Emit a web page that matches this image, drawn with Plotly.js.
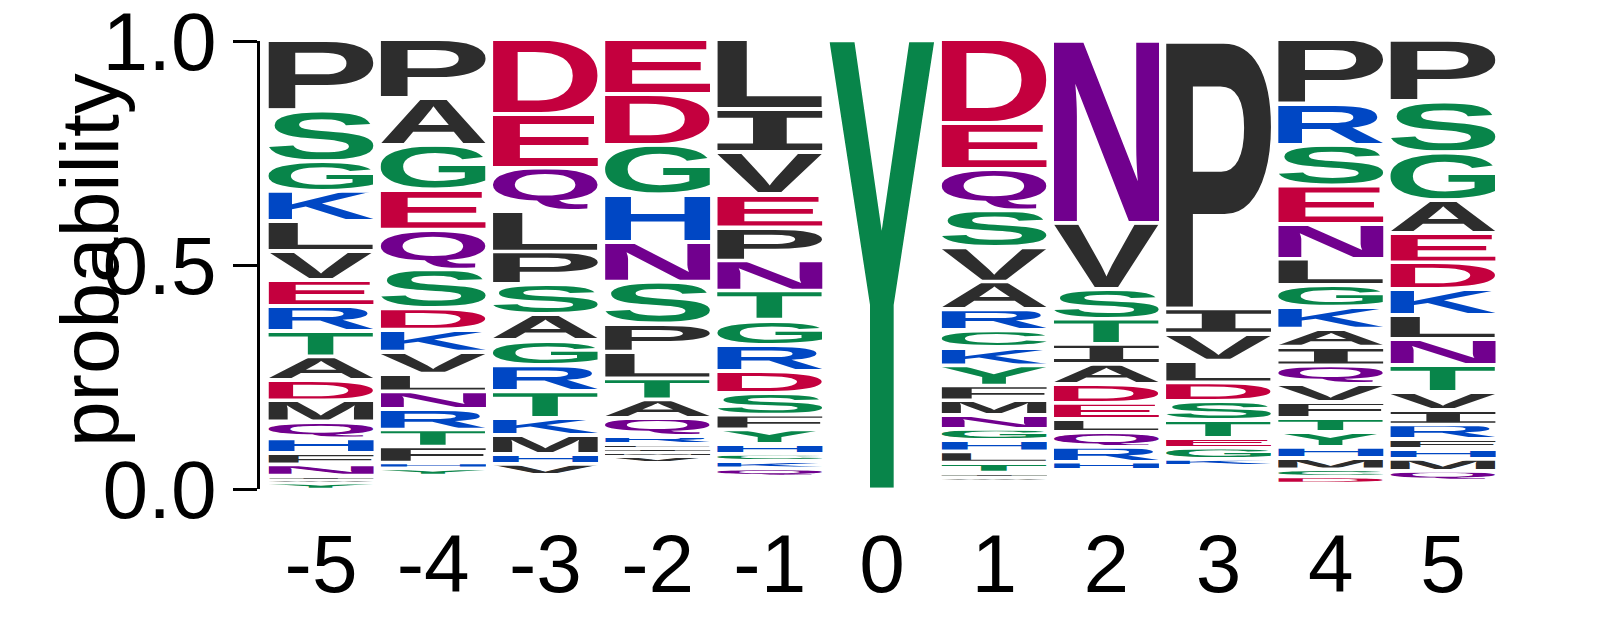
<!DOCTYPE html>
<html>
<head>
<meta charset="utf-8">
<script src="https://cdn.plot.ly/plotly-3.0.1.min.js"></script>
<style>
  html, body { margin: 0; padding: 0; background: #ffffff; }
  #logo { width: 1597px; height: 625px; }
</style>
</head>
<body>
<div id="logo"></div>
<script>
// Positions relative to the central residue
var positions = [-5, -4, -3, -2, -1, 0, 1, 2, 3, 4, 5];
var tickLabels = ["-5", "-4", "-3", "-2", "-1", "0", "1", "2", "3", "4", "5"];

// Each column: letters listed from top of the stack to the bottom, with probabilities
var lettersM5 = ["P", "S", "G", "K", "L", "V", "E", "R", "T", "A", "D", "M", "Q", "H", "F", "N", "I", "W", "Y"];
var probsM5 = [0.158, 0.114, 0.067, 0.067, 0.067, 0.065, 0.058, 0.056, 0.056, 0.053, 0.045, 0.047, 0.038, 0.033, 0.025, 0.025, 0.009, 0.007, 0.010];

var lettersM4 = ["P", "A", "G", "E", "Q", "S", "D", "K", "V", "L", "N", "R", "T", "F", "H", "Y"];
var probsM4 = [0.131, 0.105, 0.100, 0.089, 0.089, 0.087, 0.047, 0.049, 0.049, 0.040, 0.040, 0.045, 0.038, 0.036, 0.013, 0.011];

var lettersM3 = ["D", "E", "Q", "L", "P", "S", "A", "G", "R", "T", "K", "M", "H", "V"];
var probsM3 = [0.167, 0.120, 0.096, 0.091, 0.073, 0.067, 0.058, 0.056, 0.058, 0.060, 0.038, 0.042, 0.022, 0.020];

var lettersM2 = ["E", "D", "G", "H", "N", "S", "P", "L", "T", "A", "Q", "R", "F", "I", "M", "V"];
var probsM2 = [0.122, 0.114, 0.111, 0.105, 0.089, 0.094, 0.062, 0.060, 0.047, 0.042, 0.040, 0.018, 0.008, 0.010, 0.009, 0.010];

var lettersM1 = ["L", "I", "V", "E", "P", "N", "T", "G", "R", "D", "S", "F", "Y", "H", "C", "K", "Q"];
var probsM1 = [0.156, 0.096, 0.094, 0.074, 0.074, 0.067, 0.065, 0.056, 0.058, 0.049, 0.049, 0.033, 0.033, 0.022, 0.016, 0.016, 0.013];

var letters0 = ["Y"];
var probs0 = [1.0];

var lettersP1 = ["D", "E", "Q", "S", "V", "A", "R", "C", "K", "Y", "F", "M", "N", "G", "H", "L", "T", "I", "W"];
var probsP1 = [0.187, 0.103, 0.092, 0.083, 0.076, 0.062, 0.047, 0.038, 0.040, 0.045, 0.033, 0.033, 0.031, 0.025, 0.025, 0.025, 0.022, 0.010, 0.005];

var lettersP2 = ["N", "V", "S", "T", "I", "A", "D", "E", "L", "Q", "R", "H"];
var probsP2 = [0.410, 0.147, 0.067, 0.056, 0.045, 0.045, 0.042, 0.036, 0.029, 0.033, 0.033, 0.013];

var lettersP3 = ["P", "I", "V", "L", "D", "S", "T", "E", "G", "K"];
var probsP3 = [0.601, 0.056, 0.060, 0.049, 0.042, 0.042, 0.040, 0.022, 0.025, 0.011];

var lettersP4 = ["P", "R", "S", "E", "N", "L", "G", "K", "A", "I", "Q", "V", "F", "T", "Y", "H", "M", "C", "D"];
var probsP4 = [0.145, 0.091, 0.091, 0.085, 0.078, 0.058, 0.049, 0.049, 0.040, 0.042, 0.042, 0.040, 0.036, 0.031, 0.033, 0.025, 0.025, 0.016, 0.011];

var lettersP5 = ["P", "S", "G", "A", "E", "D", "K", "L", "N", "T", "V", "I", "R", "F", "H", "M", "Q"];
var probsP5 = [0.138, 0.114, 0.107, 0.074, 0.065, 0.060, 0.058, 0.053, 0.058, 0.060, 0.040, 0.033, 0.033, 0.022, 0.022, 0.027, 0.016];

var columnLetters = [lettersM5, lettersM4, lettersM3, lettersM2, lettersM1, letters0,
                     lettersP1, lettersP2, lettersP3, lettersP4, lettersP5];
var columnProbs = [probsM5, probsM4, probsM3, probsM2, probsM1, probs0,
                   probsP1, probsP2, probsP3, probsP4, probsP5];

// chemistry colour scheme
var GROUP_COLORS = {
  hydrophobic: "#2d2d2d",
  polar: "#08854a",
  basic: "#0047c4",
  acidic: "#c4003e",
  amide: "#71008e"
};
var GROUPS = {
  hydrophobic: "AVLIPFMW",
  polar: "SGTYC",
  basic: "KRH",
  acidic: "DE",
  amide: "NQ"
};

var GLYPH_WIDTH = 0.94;   // fraction of one position
var GLYPH_GAP = 0.008;    // vertical gap below each glyph, in probability units
var LAST_GAP = 0.003;     // smaller gap under the bottom glyph of a stack

function letterColor(ch) {
  var key;
  for (key in GROUPS) {
    if (GROUPS[key].indexOf(ch) >= 0) return GROUP_COLORS[key];
  }
  return "#2d2d2d";
}

function letterFont(ch) {
  // the logo font has a barred capital I
  return ch === "I" ? "Liberation Mono" : "Liberation Sans";
}

var measureCtx = document.createElement("canvas").getContext("2d");
var glyphCache = {};

/**
 * Build an SVG data URI whose viewBox hugs the ink of one letter, so that a
 * stretched image fills its box edge to edge.
 */
function glyphSource(ch) {
  if (glyphCache[ch]) return glyphCache[ch];
  var family = letterFont(ch);
  measureCtx.font = "bold 200px '" + family + "'";
  var m = measureCtx.measureText(ch);
  var x0 = -m.actualBoundingBoxLeft;
  var y0 = -m.actualBoundingBoxAscent;
  var w = m.actualBoundingBoxLeft + m.actualBoundingBoxRight;
  var h = m.actualBoundingBoxAscent + m.actualBoundingBoxDescent;
  var svg = '<svg xmlns="http://www.w3.org/2000/svg" width="' + w.toFixed(2) +
    '" height="' + h.toFixed(2) + '" viewBox="' + x0.toFixed(2) + " " + y0.toFixed(2) +
    " " + w.toFixed(2) + " " + h.toFixed(2) + '" preserveAspectRatio="none">' +
    '<text x="0" y="0" font-family="' + family + '" font-weight="bold" font-size="200" fill="' +
    letterColor(ch) + '">' + ch + "</text></svg>";
  glyphCache[ch] = "data:image/svg+xml;charset=utf-8," + encodeURIComponent(svg);
  return glyphCache[ch];
}

function buildImages() {
  var images = [];
  positions.forEach(function (pos, c) {
    var letters = columnLetters[c];
    var probs = columnProbs[c];
    var top = 1.0;
    letters.forEach(function (ch, i) {
      var slot = probs[i];
      var gap = i === letters.length - 1 ? LAST_GAP : GLYPH_GAP;
      var h = Math.max(slot - gap, slot * 0.35);
      images.push({
        source: glyphSource(ch),
        xref: "x",
        yref: "y",
        x: pos - GLYPH_WIDTH / 2,
        y: top,
        sizex: GLYPH_WIDTH,
        sizey: h,
        xanchor: "left",
        yanchor: "top",
        sizing: "stretch",
        layer: "above"
      });
      top -= slot;
    });
  });
  return images;
}

function draw() {
  var layout = {
    width: 1597,
    height: 625,
    margin: { l: 260, r: 97, t: 41, b: 136 },
    paper_bgcolor: "#ffffff",
    plot_bgcolor: "#ffffff",
    showlegend: false,
    font: { family: "Liberation Sans, Arial, sans-serif", color: "#000000", size: 82 },
    xaxis: {
      range: [-5.544, 5.508],
      tickvals: positions,
      ticktext: tickLabels,
      ticks: "outside",
      ticklen: 4,
      tickcolor: "rgba(0,0,0,0)",
      showline: false,
      showgrid: false,
      zeroline: false,
      ticklabeloverflow: "allow",
      tickfont: { size: 82, color: "#000000" },
      fixedrange: true
    },
    yaxis: {
      range: [0, 1],
      tickvals: [0, 0.5, 1],
      ticktext: ["0.0", "0.5", "1.0"],
      ticks: "outside",
      ticklen: 24,
      tickwidth: 3,
      tickcolor: "#000000",
      showline: true,
      linewidth: 3,
      linecolor: "#000000",
      showgrid: false,
      zeroline: false,
      ticklabeloverflow: "allow",
      tickfont: { size: 82, color: "#000000" },
      fixedrange: true
    },
    annotations: [{
      text: "probability",
      xref: "paper",
      yref: "paper",
      x: 0,
      y: 0.5,
      xanchor: "center",
      yanchor: "middle",
      xshift: -171,
      yshift: 5,
      textangle: -90,
      showarrow: false,
      font: { size: 82, color: "#000000" }
    }],
    images: buildImages()
  };

  Plotly.newPlot("logo", [], layout, { displayModeBar: false, staticPlot: true });
}

if (document.fonts && document.fonts.load) {
  Promise.all([
    document.fonts.load("bold 200px 'Liberation Sans'"),
    document.fonts.load("bold 200px 'Liberation Mono'")
  ]).then(draw, draw);
} else {
  draw();
}
</script>
</body>
</html>
